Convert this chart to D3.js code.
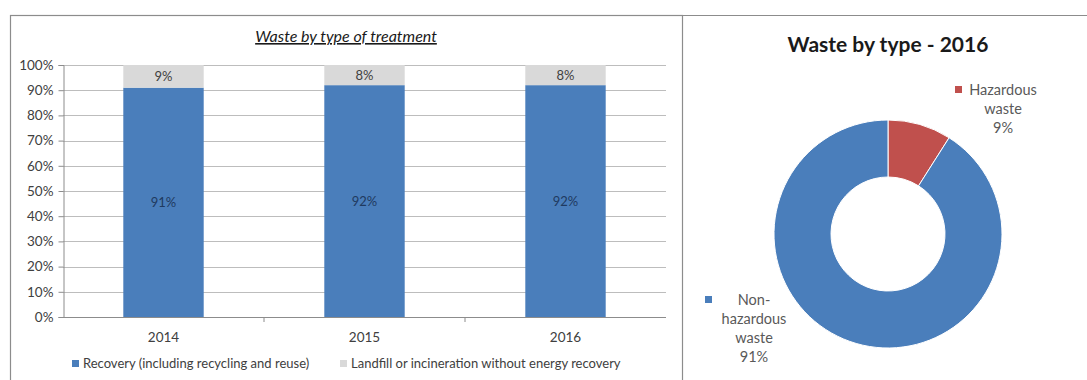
<!DOCTYPE html>
<html>
<head>
<meta charset="utf-8">
<script src="https://cdn.jsdelivr.net/npm/d3@7"></script>
<style>
  html, body { margin: 0; padding: 0; background: #fff; }
  svg { display: block; font-family: Lato, "Open Sans", sans-serif; }
</style>
</head>
<body>
<div id="chart"></div>
<script>
// Waste by treatment (stacked %) and waste by type donut, 2016
const years = ['2014', '2015', '2016'];
const recovery = [91, 92, 92];
const landfill = [9, 8, 8];
const yTicks = [0, 10, 20, 30, 40, 50, 60, 70, 80, 90, 100];

const wasteTypes = ['Hazardous waste', 'Non-hazardous waste'];
const wasteShares = [9, 91];

const W = 1087, H = 380;
const svg = d3.select('#chart').append('svg')
  .attr('width', W)
  .attr('height', H);

// panel frames
svg.append('rect')
  .attr('x', 10.5).attr('y', 15.5)
  .attr('width', 672).attr('height', 380)
  .attr('fill', 'none').attr('stroke', '#8c8c8c').attr('stroke-width', 1.2);
svg.append('line')
  .attr('x1', 682.5).attr('x2', W).attr('y1', 15.5).attr('y2', 15.5)
  .attr('stroke', '#8c8c8c').attr('stroke-width', 1.2);

// ---------- stacked bar chart ----------
const plot = {left: 63, right: 666, top: 65, bottom: 317};

const x = d3.scaleBand()
  .domain(years)
  .range([plot.left, plot.right])
  .paddingInner(0.6)
  .paddingOuter(0.3);

const y = d3.scaleLinear()
  .domain([0, 100])
  .range([plot.bottom, plot.top]);

// grid
svg.append('g')
  .selectAll('line')
  .data(yTicks.filter(d => d > 0))
  .enter().append('line')
  .attr('x1', plot.left).attr('x2', plot.right)
  .attr('y1', d => Math.round(y(d)) + 0.5).attr('y2', d => Math.round(y(d)) + 0.5)
  .attr('stroke', '#bdbdbd');

// y axis
const yAxis = svg.append('g')
  .attr('transform', `translate(${plot.left + 0.5},0)`)
  .call(d3.axisLeft(y).tickValues(yTicks).tickSize(5).tickFormat(d => d + '%'));
yAxis.select('.domain').attr('stroke', '#8c8c8c');
yAxis.selectAll('.tick line').attr('stroke', '#8c8c8c');
yAxis.selectAll('text')
  .attr('x', -10)
  .style('font-family', 'Lato, sans-serif')
  .style('font-size', '13.5px')
  .attr('fill', '#404040');

// x axis
svg.append('line')
  .attr('x1', plot.left).attr('x2', plot.right)
  .attr('y1', plot.bottom + 0.5).attr('y2', plot.bottom + 0.5)
  .attr('stroke', '#8c8c8c');
const step = x.step();
svg.append('g')
  .selectAll('line')
  .data(years.slice(0, -1))
  .enter().append('line')
  .attr('x1', d => x(d) + x.bandwidth() / 2 + step / 2)
  .attr('x2', d => x(d) + x.bandwidth() / 2 + step / 2)
  .attr('y1', plot.bottom).attr('y2', plot.bottom + 5)
  .attr('stroke', '#8c8c8c');
svg.append('g')
  .selectAll('text')
  .data(years)
  .enter().append('text')
  .attr('x', d => x(d) + x.bandwidth() / 2)
  .attr('y', plot.bottom + 25)
  .attr('text-anchor', 'middle')
  .attr('font-size', '13.5px')
  .attr('fill', '#404040')
  .text(d => d);

// bars
const blue = '#4a7ebb', grey = '#d9d9d9';
svg.append('g')
  .selectAll('rect')
  .data(years)
  .enter().append('rect')
  .attr('x', d => x(d))
  .attr('width', x.bandwidth())
  .attr('y', (d, i) => y(recovery[i]))
  .attr('height', (d, i) => y(0) - y(recovery[i]))
  .attr('fill', blue);
svg.append('g')
  .selectAll('rect')
  .data(years)
  .enter().append('rect')
  .attr('x', d => x(d))
  .attr('width', x.bandwidth())
  .attr('y', (d, i) => y(recovery[i] + landfill[i]))
  .attr('height', (d, i) => y(recovery[i]) - y(recovery[i] + landfill[i]))
  .attr('fill', grey);

// bar labels
svg.append('g')
  .selectAll('text')
  .data(years)
  .enter().append('text')
  .attr('x', d => x(d) + x.bandwidth() / 2)
  .attr('y', (d, i) => y(recovery[i] / 2) + 5)
  .attr('text-anchor', 'middle')
  .attr('font-size', '13px')
  .attr('fill', '#1f3a60')
  .text((d, i) => recovery[i] + '%');
svg.append('g')
  .selectAll('text')
  .data(years)
  .enter().append('text')
  .attr('x', d => x(d) + x.bandwidth() / 2)
  .attr('y', (d, i) => y(recovery[i] + landfill[i] / 2) + 5)
  .attr('text-anchor', 'middle')
  .attr('font-size', '13px')
  .attr('fill', '#404040')
  .text((d, i) => landfill[i] + '%');

// title
svg.append('text')
  .attr('x', 346)
  .attr('y', 42)
  .attr('text-anchor', 'middle')
  .attr('font-size', '16px')
  .attr('font-style', 'italic')
  .attr('text-decoration', 'underline')
  .attr('fill', '#1a1a1a')
  .text('Waste by type of treatment');

// legend
const legendItems = [
  {label: 'Recovery (including recycling and reuse)', color: blue, x: 72},
  {label: 'Landfill or incineration without energy recovery', color: grey, x: 340}
];
const lg = svg.append('g')
  .selectAll('g')
  .data(legendItems)
  .enter().append('g')
  .attr('transform', d => `translate(${d.x},360)`);
lg.append('rect')
  .attr('width', 7).attr('height', 7)
  .attr('fill', d => d.color);
lg.append('text')
  .attr('x', 11).attr('y', 8)
  .attr('font-size', '13px')
  .attr('fill', '#404040')
  .text(d => d.label);

// ---------- donut chart ----------
const cx = 888, cy = 234, outerR = 114, innerR = 57;
const pie = d3.pie().sort(null).value(d => d);
const arc = d3.arc().innerRadius(innerR).outerRadius(outerR);
const pieColors = ['#c0504d', '#4a7ebb'];

svg.append('g')
  .attr('transform', `translate(${cx},${cy})`)
  .selectAll('path')
  .data(pie(wasteShares))
  .enter().append('path')
  .attr('d', arc)
  .attr('fill', (d, i) => pieColors[i])
  .attr('stroke', '#fff')
  .attr('stroke-width', 1);

svg.append('text')
  .attr('x', cx)
  .attr('y', 52)
  .attr('text-anchor', 'middle')
  .attr('font-size', '21px')
  .attr('font-weight', 'bold')
  .attr('fill', '#1a1a1a')
  .text('Waste by type - 2016');

// donut labels
const pieLabels = [
  {lines: ['Hazardous', 'waste', wasteShares[0] + '%'], sx: 955, sy: 86, tx: 1003, ty: 95, firstDx: 0},
  {lines: ['Non-', 'hazardous', 'waste', wasteShares[1] + '%'], sx: 705, sy: 296, tx: 754, ty: 305, firstDx: 0}
];
pieLabels.forEach((p, i) => {
  svg.append('rect')
    .attr('x', p.sx).attr('y', p.sy)
    .attr('width', 7).attr('height', 7)
    .attr('fill', pieColors[i]);
  svg.append('g')
    .selectAll('text')
    .data(p.lines)
    .enter().append('text')
    .attr('x', (d, j) => p.tx + (j === 0 ? p.firstDx : 0))
    .attr('y', (d, j) => p.ty + j * 19)
    .attr('text-anchor', 'middle')
    .attr('font-size', '14.5px')
    .attr('fill', '#595959')
    .text(d => d);
});
</script>
</body>
</html>
